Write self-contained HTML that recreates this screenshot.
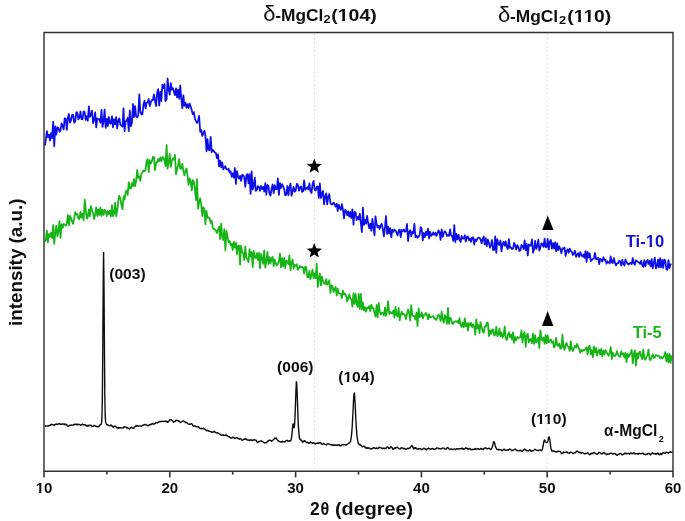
<!DOCTYPE html>
<html><head><meta charset="utf-8"><style>
html,body{margin:0;padding:0;background:#fff;}
body{width:685px;height:521px;overflow:hidden;position:relative;}
svg{position:absolute;left:0;top:0;}
text{font-family:"Liberation Sans", sans-serif;}
</style></head><body>
<svg width="685" height="521" viewBox="0 0 685 521">
<defs><filter id="bl" x="-5%" y="-5%" width="110%" height="110%"><feGaussianBlur stdDeviation="0.35"/></filter><filter id="soft" x="0" y="0" width="100%" height="100%"><feGaussianBlur stdDeviation="0.4"/></filter></defs><rect x="0" y="0" width="685" height="521" fill="#fff"/><g filter="url(#soft)">
<g stroke="#d4d4d4" stroke-width="0.9" stroke-dasharray="1.6 2.6" fill="none">
<line x1="314.47" y1="33.60" x2="314.47" y2="470.20"/>
<line x1="547.20" y1="33.60" x2="547.20" y2="470.20"/>
</g>
<path d="M44.8 425.5L45.2 425.6L45.6 425.8L46.0 426.0L46.4 426.1L46.8 425.9L47.2 426.0L47.6 426.1L48.0 426.1L48.4 425.8L48.8 425.7L49.2 425.9L49.6 425.5L50.0 425.0L50.4 425.2L50.8 425.1L51.2 424.5L51.6 424.3L52.0 424.5L52.4 424.7L52.8 424.9L53.2 424.9L53.6 425.0L54.0 425.4L54.4 424.8L54.8 424.7L55.2 424.6L55.6 424.4L56.0 423.8L56.4 424.2L56.8 424.2L57.2 424.3L57.6 424.1L58.0 424.3L58.4 423.9L58.8 423.6L59.2 423.7L59.6 423.6L60.0 424.0L60.4 424.4L60.8 424.3L61.2 424.3L61.6 424.3L62.0 424.1L62.4 423.9L62.8 424.0L63.2 423.9L63.6 424.1L64.0 424.3L64.4 424.0L64.8 424.7L65.2 424.5L65.6 424.5L66.0 424.1L66.4 424.8L66.8 424.8L67.2 425.7L67.6 425.9L68.0 426.4L68.4 426.2L68.8 426.0L69.2 425.4L69.6 425.5L70.0 425.3L70.4 425.1L70.8 425.3L71.2 425.4L71.6 425.0L72.0 425.1L72.4 425.1L72.8 425.1L73.2 424.8L73.6 425.1L74.0 424.8L74.4 424.4L74.8 424.1L75.2 424.6L75.6 424.3L76.0 424.3L76.4 424.4L76.8 424.8L77.2 424.3L77.6 424.1L78.0 424.5L78.4 424.5L78.8 424.3L79.2 424.5L79.6 424.7L80.0 424.6L80.4 425.2L80.8 425.2L81.2 424.9L81.6 424.6L82.0 424.5L82.4 424.1L82.8 424.4L83.2 424.6L83.6 424.9L84.0 424.8L84.4 424.8L84.8 424.8L85.2 424.8L85.6 425.0L86.0 425.6L86.4 425.9L86.8 425.5L87.2 426.0L87.6 426.1L88.0 425.4L88.4 425.5L88.8 425.9L89.2 425.3L89.6 425.1L90.0 425.1L90.4 425.0L90.8 425.3L91.2 425.4L91.6 425.8L92.0 426.6L92.4 426.3L92.8 426.2L93.2 426.2L93.6 426.0L94.0 425.3L94.4 425.7L94.8 425.8L95.2 425.8L95.6 426.1L96.0 426.6L96.4 426.5L96.8 426.5L97.2 426.6L97.6 426.6L98.0 426.7L98.4 426.6L98.8 426.3L99.2 426.2L99.6 425.6L100.0 424.8L100.4 424.7L100.8 424.5L101.2 424.2L101.6 422.9L102.0 416.1L102.4 394.8L102.8 347.2L103.2 283.9L103.6 252.5L104.0 284.6L104.4 346.3L104.8 393.7L105.2 415.4L105.6 422.0L106.0 423.3L106.4 424.3L106.8 424.6L107.2 424.9L107.6 424.5L108.0 424.9L108.4 425.3L108.8 425.6L109.2 425.6L109.6 425.6L110.0 425.7L110.4 425.4L110.8 425.1L111.2 425.0L111.6 425.9L112.0 426.1L112.4 426.2L112.8 426.6L113.2 427.4L113.6 426.4L114.0 426.1L114.4 426.4L114.8 426.4L115.2 426.1L115.6 426.7L116.0 426.9L116.4 427.5L116.8 427.9L117.2 427.9L117.6 427.8L118.0 428.5L118.4 427.9L118.8 427.3L119.2 427.5L119.6 427.9L120.0 427.6L120.4 427.9L120.8 427.8L121.2 427.9L121.6 427.9L122.0 428.1L122.4 428.0L122.8 427.9L123.2 427.5L123.6 427.8L124.0 427.2L124.4 426.7L124.8 426.9L125.2 427.1L125.6 427.1L126.0 427.0L126.4 427.6L126.8 428.0L127.2 427.8L127.6 427.5L128.0 428.2L128.4 428.4L128.8 428.4L129.2 428.7L129.6 429.0L130.0 428.5L130.4 428.0L130.8 427.5L131.2 427.4L131.6 427.0L132.0 427.7L132.4 427.6L132.8 428.1L133.2 428.3L133.6 428.2L134.0 427.8L134.4 427.2L134.8 426.9L135.2 426.7L135.6 426.1L136.0 425.5L136.4 426.2L136.8 426.0L137.2 425.5L137.6 425.9L138.0 426.0L138.4 425.9L138.8 426.0L139.2 426.1L139.6 426.0L140.0 426.0L140.4 426.1L140.8 426.0L141.2 426.2L141.6 426.3L142.0 425.9L142.4 425.3L142.8 425.4L143.2 425.2L143.6 424.9L144.0 424.8L144.4 424.9L144.8 424.6L145.2 424.4L145.6 424.5L146.0 424.9L146.4 424.9L146.8 425.2L147.2 425.4L147.6 425.8L148.0 425.9L148.4 425.6L148.8 425.3L149.2 425.2L149.6 424.7L150.0 424.6L150.4 424.8L150.8 424.6L151.2 423.9L151.6 424.2L152.0 423.9L152.4 423.7L152.8 423.5L153.2 424.3L153.6 424.1L154.0 423.9L154.4 423.6L154.8 423.8L155.2 423.2L155.6 422.9L156.0 422.5L156.4 422.8L156.8 422.7L157.2 422.7L157.6 422.7L158.0 422.3L158.4 422.0L158.8 421.8L159.2 421.6L159.6 421.5L160.0 421.7L160.4 421.8L160.8 421.7L161.2 421.5L161.6 421.2L162.0 421.4L162.4 421.4L162.8 421.4L163.2 421.2L163.6 421.6L164.0 421.3L164.4 421.3L164.8 421.4L165.2 421.6L165.6 421.1L166.0 421.5L166.4 421.3L166.8 421.3L167.2 421.6L167.6 422.3L168.0 422.1L168.4 421.5L168.8 421.3L169.2 420.6L169.6 419.9L170.0 419.8L170.4 419.7L170.8 420.1L171.2 419.8L171.6 419.7L172.0 420.3L172.4 420.9L172.8 420.9L173.2 421.7L173.6 422.4L174.0 422.1L174.4 421.8L174.8 421.4L175.2 421.3L175.6 420.6L176.0 420.3L176.4 420.1L176.8 420.4L177.2 420.4L177.6 420.8L178.0 420.6L178.4 420.7L178.8 421.2L179.2 421.3L179.6 421.4L180.0 422.0L180.4 422.5L180.8 422.4L181.2 422.2L181.6 421.9L182.0 421.7L182.4 421.1L182.8 421.0L183.2 421.1L183.6 420.9L184.0 421.2L184.4 421.7L184.8 421.8L185.2 422.0L185.6 422.5L186.0 422.4L186.4 422.5L186.8 422.8L187.2 423.1L187.6 423.4L188.0 423.8L188.4 424.1L188.8 424.1L189.2 424.2L189.6 424.4L190.0 424.3L190.4 424.3L190.8 424.0L191.2 423.6L191.6 423.7L192.0 424.0L192.4 424.5L192.8 425.4L193.2 426.2L193.6 426.3L194.0 426.0L194.4 426.0L194.8 425.8L195.2 425.9L195.6 426.1L196.0 426.7L196.4 426.8L196.8 426.9L197.2 426.8L197.6 426.7L198.0 426.7L198.4 427.0L198.8 427.1L199.2 427.6L199.6 428.2L200.0 428.6L200.4 428.5L200.8 428.5L201.2 428.4L201.6 428.7L202.0 428.5L202.4 428.5L202.8 428.7L203.2 428.8L203.6 428.3L204.0 429.0L204.4 429.0L204.8 429.0L205.2 429.5L205.6 430.1L206.0 430.0L206.4 430.3L206.8 430.7L207.2 430.4L207.6 430.5L208.0 430.7L208.4 430.9L208.8 431.2L209.2 431.3L209.6 431.2L210.0 431.4L210.4 431.6L210.8 431.6L211.2 431.7L211.6 432.2L212.0 432.2L212.4 432.1L212.8 432.0L213.2 432.1L213.6 431.8L214.0 431.7L214.4 431.3L214.8 432.0L215.2 432.3L215.6 432.6L216.0 432.4L216.4 432.9L216.8 433.0L217.2 432.7L217.6 432.8L218.0 433.3L218.4 433.3L218.8 433.3L219.2 433.7L219.6 434.0L220.0 434.1L220.4 434.4L220.8 434.8L221.2 435.2L221.6 435.4L222.0 435.1L222.4 435.0L222.8 434.8L223.2 435.0L223.6 434.8L224.0 435.4L224.4 435.4L224.8 435.4L225.2 435.0L225.6 435.2L226.0 435.0L226.4 435.2L226.8 435.3L227.2 436.2L227.6 436.0L228.0 436.1L228.4 436.6L228.8 436.6L229.2 436.7L229.6 437.2L230.0 437.5L230.4 437.4L230.8 438.0L231.2 437.8L231.6 437.9L232.0 438.0L232.4 437.7L232.8 437.1L233.2 437.4L233.6 437.5L234.0 437.7L234.4 438.3L234.8 438.5L235.2 438.2L235.6 437.9L236.0 438.0L236.4 437.7L236.8 437.9L237.2 438.0L237.6 438.2L238.0 438.3L238.4 438.7L238.8 438.9L239.2 439.2L239.6 439.0L240.0 438.5L240.4 438.7L240.8 438.9L241.2 439.1L241.6 439.7L242.0 440.4L242.4 440.1L242.8 440.1L243.2 439.8L243.6 439.5L244.0 439.1L244.4 439.4L244.8 439.3L245.2 438.5L245.6 438.8L246.0 439.2L246.4 439.2L246.8 439.3L247.2 440.2L247.6 440.0L248.0 440.1L248.4 440.2L248.8 439.9L249.2 439.9L249.6 440.6L250.0 440.2L250.4 439.9L250.8 439.8L251.2 440.3L251.6 439.9L252.0 440.3L252.4 440.5L252.8 440.7L253.2 439.8L253.6 439.9L254.0 440.0L254.4 439.8L254.8 439.8L255.2 440.1L255.6 440.1L256.0 440.2L256.4 441.0L256.8 441.6L257.2 442.1L257.6 442.5L258.0 442.2L258.4 441.8L258.8 441.8L259.2 441.6L259.6 441.3L260.0 441.2L260.4 440.9L260.8 440.9L261.2 441.0L261.6 441.0L262.0 441.5L262.4 441.6L262.8 441.6L263.2 441.8L263.6 442.4L264.0 442.5L264.4 443.0L264.8 442.7L265.2 442.7L265.6 442.7L266.0 442.4L266.4 442.5L266.8 442.7L267.2 442.1L267.6 441.0L268.0 441.0L268.4 441.0L268.8 440.5L269.2 440.3L269.6 440.1L270.0 440.4L270.4 440.3L270.8 440.7L271.2 440.8L271.6 441.4L272.0 440.9L272.4 440.5L272.8 440.2L273.2 439.8L273.6 439.5L274.0 439.3L274.4 438.5L274.8 438.2L275.2 438.1L275.6 438.2L276.0 437.8L276.4 438.9L276.8 439.1L277.2 439.5L277.6 440.2L278.0 440.7L278.4 440.7L278.8 441.0L279.2 441.5L279.6 441.6L280.0 441.7L280.4 442.0L280.8 442.0L281.2 441.8L281.6 441.5L282.0 441.9L282.4 441.3L282.8 441.4L283.2 441.7L283.6 441.6L284.0 441.9L284.4 442.0L284.8 442.0L285.2 441.5L285.6 441.4L286.0 440.6L286.4 440.6L286.8 440.5L287.2 440.3L287.6 440.6L288.0 441.2L288.4 440.9L288.8 441.0L289.2 441.1L289.6 440.7L290.0 440.7L290.4 441.1L290.8 440.5L291.2 439.5L291.6 437.2L292.0 433.7L292.4 428.9L292.8 424.8L293.2 423.8L293.6 426.4L294.0 427.9L294.4 426.5L294.8 421.3L295.2 412.1L295.6 400.4L296.0 388.8L296.4 381.8L296.8 384.5L297.2 394.1L297.6 405.9L298.0 417.2L298.4 426.6L298.8 431.7L299.2 435.4L299.6 438.6L300.0 439.5L300.4 439.2L300.8 439.8L301.2 440.8L301.6 440.4L302.0 440.8L302.4 441.8L302.8 442.2L303.2 441.7L303.6 441.3L304.0 441.2L304.4 440.7L304.8 440.6L305.2 441.2L305.6 441.9L306.0 441.9L306.4 442.4L306.8 442.7L307.2 442.6L307.6 442.3L308.0 442.5L308.4 443.0L308.8 443.2L309.2 442.9L309.6 443.1L310.0 442.7L310.4 442.1L310.8 442.4L311.2 442.6L311.6 442.6L312.0 443.0L312.4 443.2L312.8 442.8L313.2 442.8L313.6 442.8L314.0 443.2L314.4 443.6L314.8 443.5L315.2 443.5L315.6 444.0L316.0 443.6L316.4 443.1L316.8 443.2L317.2 443.4L317.6 443.0L318.0 443.2L318.4 443.5L318.8 443.3L319.2 442.8L319.6 442.4L320.0 442.9L320.4 442.4L320.8 442.8L321.2 443.4L321.6 444.2L322.0 444.0L322.4 444.3L322.8 444.2L323.2 443.9L323.6 443.4L324.0 443.8L324.4 443.8L324.8 444.2L325.2 444.5L325.6 444.7L326.0 444.6L326.4 445.1L326.8 444.3L327.2 444.0L327.6 443.9L328.0 443.8L328.4 443.7L328.8 444.0L329.2 444.1L329.6 444.2L330.0 444.5L330.4 444.7L330.8 444.8L331.2 444.7L331.6 445.0L332.0 444.8L332.4 444.6L332.8 445.0L333.2 445.6L333.6 445.2L334.0 444.9L334.4 445.2L334.8 444.9L335.2 444.9L335.6 445.2L336.0 445.2L336.4 445.0L336.8 445.3L337.2 445.2L337.6 445.0L338.0 445.2L338.4 445.0L338.8 444.7L339.2 444.9L339.6 445.7L340.0 445.8L340.4 445.9L340.8 445.8L341.2 445.6L341.6 445.0L342.0 444.9L342.4 445.0L342.8 444.6L343.2 444.8L343.6 444.7L344.0 444.4L344.4 444.5L344.8 444.6L345.2 444.9L345.6 445.0L346.0 445.2L346.4 444.8L346.8 444.7L347.2 444.4L347.6 443.9L348.0 443.9L348.4 443.4L348.8 443.3L349.2 442.9L349.6 442.7L350.0 441.9L350.4 441.8L350.8 440.1L351.2 437.5L351.6 434.1L352.0 429.7L352.4 423.2L352.8 415.5L353.2 407.2L353.6 399.3L354.0 393.7L354.4 392.9L354.8 397.8L355.2 405.4L355.6 413.9L356.0 421.8L356.4 428.7L356.8 433.9L357.2 437.7L357.6 440.1L358.0 442.3L358.4 443.4L358.8 443.8L359.2 444.6L359.6 444.7L360.0 444.2L360.4 445.0L360.8 445.4L361.2 445.4L361.6 446.0L362.0 446.8L362.4 446.6L362.8 446.6L363.2 446.3L363.6 446.3L364.0 446.3L364.4 446.4L364.8 446.7L365.2 447.8L365.6 447.5L366.0 447.8L366.4 448.2L366.8 448.4L367.2 447.6L367.6 448.2L368.0 448.3L368.4 448.1L368.8 447.8L369.2 448.1L369.6 448.1L370.0 448.3L370.4 448.9L370.8 448.9L371.2 449.1L371.6 448.8L372.0 448.8L372.4 448.3L372.8 448.2L373.2 447.8L373.6 447.7L374.0 447.6L374.4 447.9L374.8 448.3L375.2 448.4L375.6 448.5L376.0 448.4L376.4 448.0L376.8 447.9L377.2 448.4L377.6 448.6L378.0 448.4L378.4 448.0L378.8 447.9L379.2 447.3L379.6 447.2L380.0 447.4L380.4 447.6L380.8 447.6L381.2 447.9L381.6 448.4L382.0 448.5L382.4 448.3L382.8 448.4L383.2 448.6L383.6 448.1L384.0 447.9L384.4 448.5L384.8 448.5L385.2 448.5L385.6 448.3L386.0 448.4L386.4 447.8L386.8 447.3L387.2 447.1L387.6 447.0L388.0 447.0L388.4 448.0L388.8 448.5L389.2 448.4L389.6 448.1L390.0 448.0L390.4 447.0L390.8 446.4L391.2 446.8L391.6 447.2L392.0 447.5L392.4 448.6L392.8 449.2L393.2 449.0L393.6 449.2L394.0 449.1L394.4 448.1L394.8 448.0L395.2 448.2L395.6 448.1L396.0 447.8L396.4 447.7L396.8 447.5L397.2 447.2L397.6 447.4L398.0 447.9L398.4 448.5L398.8 448.7L399.2 448.9L399.6 448.9L400.0 448.9L400.4 448.2L400.8 448.6L401.2 448.0L401.6 447.7L402.0 447.7L402.4 448.1L402.8 448.2L403.2 448.6L403.6 448.7L404.0 448.5L404.4 448.5L404.8 448.5L405.2 448.8L405.6 449.3L406.0 449.1L406.4 449.3L406.8 449.1L407.2 448.5L407.6 448.2L408.0 448.5L408.4 448.6L408.8 448.3L409.2 448.4L409.6 448.0L410.0 448.0L410.4 447.6L410.8 446.9L411.2 446.1L411.6 445.7L412.0 445.5L412.4 446.0L412.8 446.7L413.2 448.0L413.6 449.0L414.0 448.5L414.4 447.8L414.8 448.5L415.2 447.9L415.6 447.6L416.0 447.7L416.4 448.7L416.8 448.9L417.2 449.2L417.6 449.2L418.0 449.4L418.4 449.3L418.8 448.5L419.2 448.6L419.6 448.6L420.0 448.6L420.4 448.5L420.8 449.1L421.2 449.1L421.6 449.7L422.0 449.5L422.4 449.3L422.8 449.1L423.2 448.7L423.6 448.4L424.0 448.2L424.4 448.5L424.8 448.7L425.2 449.1L425.6 449.0L426.0 449.5L426.4 449.8L426.8 449.1L427.2 449.0L427.6 449.0L428.0 448.6L428.4 448.1L428.8 448.5L429.2 448.5L429.6 448.6L430.0 449.0L430.4 449.4L430.8 449.2L431.2 448.9L431.6 449.1L432.0 448.6L432.4 448.4L432.8 448.6L433.2 449.1L433.6 449.0L434.0 449.5L434.4 449.4L434.8 449.4L435.2 449.0L435.6 448.9L436.0 448.6L436.4 448.5L436.8 447.7L437.2 448.1L437.6 448.1L438.0 448.1L438.4 448.2L438.8 448.7L439.2 448.6L439.6 448.5L440.0 448.8L440.4 449.0L440.8 448.9L441.2 448.9L441.6 448.7L442.0 448.5L442.4 448.0L442.8 448.1L443.2 448.1L443.6 448.1L444.0 448.1L444.4 448.7L444.8 448.8L445.2 449.1L445.6 449.2L446.0 449.1L446.4 448.9L446.8 448.4L447.2 447.6L447.6 447.8L448.0 447.8L448.4 448.1L448.8 448.6L449.2 448.9L449.6 449.1L450.0 449.2L450.4 449.3L450.8 449.0L451.2 449.2L451.6 449.1L452.0 449.2L452.4 449.1L452.8 449.6L453.2 449.5L453.6 449.2L454.0 449.3L454.4 449.0L454.8 449.0L455.2 449.3L455.6 449.5L456.0 449.1L456.4 449.0L456.8 449.0L457.2 448.6L457.6 448.8L458.0 449.0L458.4 449.1L458.8 448.8L459.2 448.8L459.6 448.8L460.0 448.7L460.4 448.6L460.8 448.6L461.2 448.8L461.6 448.2L462.0 448.1L462.4 448.4L462.8 449.0L463.2 448.7L463.6 449.3L464.0 449.0L464.4 449.0L464.8 448.7L465.2 448.5L465.6 447.8L466.0 448.2L466.4 448.1L466.8 448.1L467.2 448.4L467.6 449.1L468.0 449.4L468.4 449.0L468.8 448.8L469.2 448.6L469.6 448.7L470.0 448.4L470.4 449.0L470.8 449.1L471.2 449.8L471.6 449.6L472.0 449.7L472.4 449.5L472.8 449.5L473.2 449.5L473.6 449.4L474.0 449.2L474.4 449.2L474.8 449.3L475.2 448.5L475.6 448.8L476.0 449.2L476.4 449.2L476.8 449.0L477.2 449.1L477.6 448.8L478.0 448.4L478.4 448.8L478.8 449.2L479.2 449.4L479.6 449.4L480.0 449.2L480.4 448.7L480.8 448.4L481.2 448.5L481.6 448.6L482.0 449.3L482.4 449.4L482.8 449.2L483.2 449.5L483.6 449.0L484.0 448.5L484.4 448.3L484.8 448.2L485.2 447.6L485.6 448.0L486.0 448.1L486.4 448.3L486.8 448.6L487.2 448.8L487.6 448.9L488.0 448.8L488.4 448.5L488.8 448.2L489.2 448.4L489.6 448.4L490.0 448.9L490.4 449.3L490.8 449.5L491.2 448.9L491.6 448.6L492.0 447.8L492.4 446.8L492.8 445.0L493.2 443.5L493.6 441.8L494.0 441.7L494.4 442.2L494.8 443.8L495.2 445.4L495.6 447.0L496.0 447.6L496.4 448.6L496.8 449.4L497.2 449.5L497.6 449.5L498.0 449.7L498.4 449.7L498.8 449.4L499.2 449.8L499.6 449.6L500.0 449.5L500.4 449.9L500.8 449.9L501.2 449.9L501.6 450.2L502.0 450.7L502.4 450.3L502.8 450.2L503.2 449.7L503.6 449.5L504.0 449.2L504.4 449.3L504.8 449.8L505.2 450.4L505.6 450.3L506.0 450.1L506.4 450.3L506.8 450.3L507.2 449.9L507.6 450.0L508.0 450.2L508.4 450.0L508.8 449.6L509.2 449.4L509.6 449.2L510.0 448.9L510.4 449.3L510.8 449.7L511.2 450.1L511.6 450.3L512.0 450.7L512.4 450.4L512.8 450.2L513.2 450.1L513.6 450.0L514.0 449.7L514.4 449.4L514.8 449.2L515.2 449.3L515.6 449.2L516.0 450.0L516.4 450.2L516.8 450.3L517.2 450.3L517.6 450.7L518.0 450.7L518.4 450.9L518.8 450.9L519.2 450.7L519.6 450.7L520.0 450.4L520.4 450.3L520.8 450.5L521.2 450.9L521.6 451.1L522.0 451.3L522.4 451.1L522.8 450.8L523.2 450.1L523.6 449.9L524.0 449.8L524.4 449.0L524.8 449.3L525.2 450.0L525.6 450.1L526.0 449.9L526.4 450.8L526.8 450.9L527.2 450.6L527.6 450.6L528.0 451.1L528.4 450.8L528.8 450.6L529.2 450.3L529.6 449.7L530.0 449.8L530.4 450.4L530.8 450.7L531.2 451.2L531.6 451.4L532.0 451.1L532.4 450.8L532.8 450.9L533.2 450.6L533.6 450.4L534.0 450.0L534.4 449.7L534.8 449.5L535.2 449.5L535.6 449.7L536.0 450.0L536.4 450.1L536.8 450.4L537.2 450.4L537.6 450.4L538.0 450.4L538.4 450.6L538.8 450.4L539.2 450.1L539.6 450.0L540.0 450.1L540.4 450.0L540.8 450.3L541.2 450.3L541.6 450.7L542.0 450.2L542.4 449.2L542.8 447.3L543.2 445.5L543.6 443.0L544.0 441.0L544.4 439.9L544.8 440.1L545.2 441.2L545.6 442.0L546.0 442.4L546.4 442.5L546.8 442.5L547.2 442.2L547.6 441.8L548.0 440.5L548.4 438.5L548.8 437.0L549.2 436.8L549.6 438.5L550.0 441.0L550.4 444.5L550.8 447.2L551.2 449.4L551.6 450.3L552.0 451.2L552.4 451.0L552.8 451.1L553.2 450.8L553.6 451.2L554.0 451.2L554.4 451.6L554.8 451.5L555.2 451.7L555.6 451.6L556.0 451.6L556.4 451.6L556.8 451.9L557.2 451.5L557.6 451.3L558.0 451.5L558.4 451.6L558.8 451.1L559.2 451.1L559.6 451.3L560.0 451.5L560.4 451.5L560.8 452.3L561.2 453.0L561.6 453.7L562.0 453.3L562.4 453.2L562.8 453.3L563.2 452.7L563.6 451.8L564.0 452.2L564.4 452.5L564.8 452.5L565.2 452.4L565.6 452.4L566.0 452.4L566.4 452.0L566.8 451.8L567.2 452.2L567.6 452.9L568.0 453.0L568.4 453.1L568.8 453.1L569.2 453.3L569.6 452.6L570.0 452.7L570.4 452.5L570.8 452.2L571.2 452.2L571.6 452.6L572.0 452.8L572.4 453.1L572.8 453.6L573.2 453.3L573.6 453.3L574.0 452.9L574.4 453.1L574.8 452.6L575.2 452.8L575.6 452.2L576.0 452.1L576.4 451.2L576.8 451.1L577.2 451.1L577.6 451.6L578.0 451.7L578.4 452.2L578.8 452.6L579.2 452.0L579.6 452.3L580.0 452.9L580.4 452.5L580.8 452.4L581.2 453.2L581.6 452.7L582.0 452.4L582.4 452.7L582.8 452.9L583.2 453.0L583.6 453.3L584.0 453.4L584.4 453.8L584.8 453.8L585.2 453.5L585.6 453.8L586.0 453.5L586.4 453.3L586.8 453.1L587.2 453.0L587.6 452.8L588.0 453.1L588.4 453.7L588.8 454.0L589.2 454.2L589.6 454.6L590.0 454.8L590.4 453.8L590.8 453.7L591.2 453.8L591.6 453.3L592.0 453.1L592.4 453.5L592.8 453.6L593.2 453.0L593.6 452.7L594.0 452.5L594.4 452.7L594.8 453.0L595.2 453.3L595.6 453.6L596.0 454.0L596.4 454.0L596.8 454.1L597.2 454.2L597.6 453.9L598.0 453.5L598.4 453.3L598.8 452.5L599.2 452.4L599.6 452.7L600.0 452.8L600.4 452.9L600.8 453.4L601.2 453.7L601.6 453.9L602.0 454.0L602.4 453.7L602.8 453.2L603.2 452.8L603.6 452.9L604.0 452.5L604.4 452.8L604.8 453.3L605.2 454.0L605.6 454.0L606.0 454.2L606.4 454.6L606.8 454.6L607.2 454.0L607.6 454.2L608.0 454.1L608.4 453.9L608.8 453.9L609.2 454.1L609.6 453.6L610.0 453.5L610.4 453.4L610.8 453.3L611.2 453.1L611.6 453.2L612.0 453.7L612.4 453.9L612.8 454.0L613.2 453.8L613.6 454.1L614.0 453.7L614.4 453.4L614.8 453.6L615.2 453.7L615.6 453.7L616.0 454.6L616.4 455.0L616.8 454.9L617.2 455.3L617.6 454.9L618.0 454.5L618.4 454.2L618.8 454.1L619.2 453.9L619.6 454.0L620.0 453.4L620.4 453.4L620.8 453.5L621.2 453.9L621.6 454.2L622.0 454.7L622.4 454.8L622.8 454.8L623.2 454.3L623.6 454.1L624.0 453.7L624.4 453.5L624.8 453.8L625.2 453.3L625.6 453.2L626.0 453.7L626.4 453.7L626.8 453.4L627.2 453.4L627.6 453.5L628.0 453.5L628.4 453.6L628.8 453.5L629.2 453.8L629.6 454.0L630.0 453.6L630.4 453.3L630.8 452.9L631.2 453.5L631.6 453.2L632.0 453.5L632.4 453.2L632.8 453.8L633.2 453.5L633.6 453.2L634.0 452.8L634.4 453.8L634.8 453.3L635.2 453.6L635.6 453.9L636.0 453.7L636.4 453.6L636.8 453.9L637.2 453.6L637.6 453.6L638.0 454.2L638.4 454.1L638.8 453.8L639.2 453.2L639.6 453.5L640.0 453.4L640.4 453.5L640.8 453.6L641.2 453.9L641.6 453.7L642.0 453.2L642.4 453.2L642.8 453.2L643.2 453.2L643.6 453.6L644.0 454.3L644.4 454.2L644.8 454.4L645.2 454.7L645.6 454.4L646.0 454.6L646.4 454.4L646.8 454.4L647.2 454.0L647.6 454.2L648.0 453.4L648.4 453.5L648.8 453.5L649.2 453.8L649.6 453.5L650.0 454.3L650.4 454.8L650.8 454.6L651.2 454.0L651.6 453.7L652.0 453.2L652.4 452.7L652.8 452.8L653.2 453.5L653.6 453.7L654.0 453.9L654.4 453.9L654.8 453.7L655.2 453.4L655.6 454.2L656.0 454.2L656.4 453.9L656.8 453.6L657.2 453.9L657.6 453.2L658.0 453.0L658.4 453.9L658.8 454.8L659.2 454.1L659.6 454.1L660.0 454.5L660.4 454.0L660.8 453.3L661.2 454.1L661.6 454.6L662.0 454.0L662.4 453.3L662.8 453.2L663.2 452.8L663.6 452.6L664.0 452.8L664.4 453.1L664.8 453.3L665.2 453.2L665.6 452.7L666.0 452.2L666.4 452.3L666.8 452.6L667.2 452.4L667.6 452.8L668.0 453.0L668.4 453.2L668.8 452.5L669.2 452.4L669.6 452.2L670.0 452.3L670.4 451.8L670.8 452.4L671.2 452.3L671.6 452.3L672.0 452.3L672.4 452.5" fill="none" stroke="#111" stroke-width="1.4" stroke-linejoin="round"/>
<path d="M44.8 241.6L45.8 240.3L46.9 230.7L47.9 242.5L49.0 234.0L50.0 237.0L51.1 232.7L52.1 238.1L53.2 225.1L54.2 243.9L55.3 232.9L56.3 225.5L57.4 236.5L58.4 231.4L59.5 221.2L60.5 237.9L61.6 224.2L62.6 227.9L63.7 223.9L64.7 224.5L65.8 225.6L66.8 223.6L67.9 215.0L68.9 225.4L70.0 215.8L71.0 218.3L72.1 221.6L73.1 223.8L74.2 218.3L75.2 212.1L76.3 214.7L77.3 213.9L78.4 218.5L79.4 219.0L80.5 211.9L81.5 217.7L82.6 213.7L83.6 220.4L84.7 199.7L85.7 209.2L86.8 218.7L87.8 217.0L88.9 209.3L89.9 216.3L91.0 206.1L92.0 210.3L93.1 213.2L94.1 219.2L95.2 213.9L96.2 207.5L97.3 216.0L98.3 209.3L99.4 215.0L100.4 207.5L101.5 216.0L102.5 209.6L103.6 214.9L104.6 210.0L105.7 210.9L106.7 216.0L107.8 211.0L108.8 214.1L109.9 210.9L110.9 216.3L112.0 205.2L113.0 216.1L114.1 213.1L115.1 202.6L116.2 216.1L117.2 210.5L118.3 200.9L119.3 195.7L120.4 198.6L121.4 205.1L122.5 209.2L123.5 196.3L124.6 199.5L125.6 192.1L126.7 190.4L127.7 195.0L128.8 182.1L129.8 188.6L130.9 188.4L131.9 183.1L133.0 186.1L134.0 179.0L135.1 186.1L136.1 180.8L137.2 170.1L138.2 177.8L139.3 176.4L140.3 180.8L141.4 173.3L142.4 172.6L143.5 170.4L144.5 171.3L145.6 170.2L146.6 160.8L147.7 159.1L148.7 172.2L149.8 160.2L150.8 163.5L151.9 161.2L152.9 156.9L154.0 157.2L155.0 170.2L156.1 163.4L157.1 162.1L158.2 159.0L159.2 161.3L160.3 157.5L161.3 161.4L162.4 157.1L163.4 157.3L164.5 160.9L165.5 166.2L166.6 145.0L167.6 168.7L168.7 162.5L169.7 153.8L170.8 166.9L171.8 161.0L172.9 158.5L173.9 159.7L175.0 155.0L176.0 174.3L177.1 169.4L178.1 164.8L179.2 159.0L180.2 168.6L181.3 168.6L182.3 163.8L183.4 171.4L184.4 175.3L185.5 170.2L186.5 168.5L187.6 176.9L188.6 184.8L189.7 178.3L190.7 181.3L191.8 190.4L192.8 180.2L193.9 181.8L194.9 189.2L196.0 200.2L197.0 179.2L198.1 208.7L199.1 202.5L200.2 198.3L201.2 204.7L202.3 216.1L203.3 207.2L204.4 209.0L205.4 224.4L206.5 210.8L207.5 217.9L208.6 217.5L209.6 218.3L210.7 222.8L211.7 220.7L212.8 227.8L213.8 229.4L214.9 229.2L215.9 230.7L217.0 233.0L218.0 229.8L219.1 226.6L220.1 239.1L221.2 223.6L222.2 236.7L223.3 240.1L224.3 229.1L225.4 250.4L226.4 230.9L227.5 236.5L228.5 242.1L229.6 240.9L230.6 245.2L231.7 243.4L232.7 250.0L233.8 242.0L234.8 247.6L235.9 242.8L236.9 254.2L238.0 245.8L239.0 245.5L240.1 264.7L241.1 245.6L242.2 252.1L243.2 253.5L244.3 260.0L245.3 246.5L246.4 257.4L247.4 258.9L248.5 262.2L249.5 249.2L250.6 256.7L251.6 252.0L252.7 267.2L253.7 250.8L254.8 257.0L255.8 258.1L256.9 253.2L257.9 260.2L259.0 252.8L260.0 268.1L261.1 254.0L262.1 258.2L263.2 263.9L264.2 250.3L265.3 267.6L266.3 261.7L267.4 251.8L268.4 264.1L269.5 257.2L270.5 263.7L271.6 258.2L272.6 256.9L273.7 266.3L274.7 259.4L275.8 263.1L276.8 265.3L277.9 264.0L278.9 260.8L280.0 253.5L281.0 267.5L282.1 258.2L283.1 266.5L284.2 257.9L285.2 268.0L286.3 260.6L287.3 261.2L288.4 264.1L289.4 255.3L290.5 270.3L291.5 262.9L292.6 259.3L293.6 268.6L294.7 264.8L295.7 265.7L296.8 264.3L297.8 269.8L298.9 268.3L299.9 266.0L301.0 267.6L302.0 266.9L303.1 267.8L304.1 273.5L305.2 266.6L306.2 267.0L307.3 276.8L308.3 277.4L309.4 270.9L310.4 279.3L311.5 274.9L312.5 269.7L313.6 278.4L314.6 273.4L315.7 278.1L316.7 263.5L317.8 286.9L318.8 278.9L319.9 273.5L320.9 285.7L322.0 276.6L323.0 281.1L324.1 283.3L325.1 284.0L326.2 279.1L327.2 284.7L328.3 283.3L329.3 280.2L330.4 293.0L331.4 285.3L332.5 286.1L333.5 292.2L334.6 289.2L335.6 286.8L336.7 295.6L337.7 288.7L338.8 293.3L339.8 293.6L340.9 293.7L341.9 298.2L343.0 290.7L344.0 294.1L345.1 293.7L346.1 296.0L347.2 301.3L348.2 298.1L349.3 294.4L350.3 298.8L351.4 299.2L352.4 306.6L353.5 293.2L354.5 303.8L355.6 293.9L356.6 303.8L357.7 307.0L358.7 294.0L359.8 309.0L360.8 293.9L361.9 309.3L362.9 302.3L364.0 310.4L365.0 307.3L366.1 311.7L367.1 307.5L368.2 308.3L369.2 306.1L370.3 311.2L371.3 304.7L372.4 308.1L373.4 308.2L374.5 312.8L375.5 316.6L376.6 305.0L377.6 317.4L378.7 303.1L379.7 311.2L380.8 314.6L381.8 312.6L382.9 313.0L383.9 315.5L385.0 307.5L386.0 315.8L387.1 310.2L388.1 301.2L389.2 314.0L390.2 311.9L391.3 313.3L392.3 313.7L393.4 310.3L394.4 317.7L395.5 306.8L396.5 315.0L397.6 316.5L398.6 307.8L399.7 320.4L400.7 314.7L401.8 311.6L402.8 314.6L403.9 314.1L404.9 314.9L406.0 319.0L407.0 314.1L408.1 309.4L409.1 312.8L410.2 320.5L411.2 305.2L412.3 315.2L413.3 316.2L414.4 316.2L415.4 319.5L416.5 312.7L417.5 326.2L418.6 308.3L419.6 317.0L420.7 316.3L421.7 312.4L422.8 318.4L423.8 315.2L424.9 314.9L425.9 312.9L427.0 315.4L428.0 319.2L429.1 314.2L430.1 317.5L431.2 316.8L432.2 316.5L433.3 316.1L434.3 318.6L435.4 318.5L436.4 319.9L437.5 316.2L438.5 314.6L439.6 316.5L440.6 321.1L441.7 311.7L442.7 319.3L443.8 322.6L444.8 315.2L445.9 317.0L446.9 323.9L448.0 307.8L449.0 323.8L450.1 317.8L451.1 318.9L452.2 323.9L453.2 323.6L454.3 321.7L455.3 321.3L456.4 321.8L457.4 321.0L458.5 323.3L459.5 318.2L460.6 325.1L461.6 326.8L462.7 322.7L463.7 327.3L464.8 318.3L465.8 326.2L466.9 323.2L467.9 330.7L469.0 323.0L470.0 325.6L471.1 322.9L472.1 327.1L473.2 324.3L474.2 326.8L475.3 334.7L476.3 319.3L477.4 328.5L478.4 325.0L479.5 333.2L480.5 322.2L481.6 327.1L482.6 330.9L483.7 332.9L484.7 326.4L485.8 326.8L486.8 322.4L487.9 323.1L488.9 336.2L490.0 330.3L491.0 333.9L492.1 329.9L493.1 329.3L494.2 335.7L495.2 334.5L496.3 326.8L497.3 336.2L498.4 334.5L499.4 328.4L500.5 336.3L501.5 332.5L502.6 337.6L503.6 335.6L504.7 326.4L505.7 338.3L506.8 340.1L507.8 335.1L508.9 332.4L509.9 337.2L511.0 334.5L512.0 339.7L513.1 332.4L514.1 342.8L515.2 337.2L516.2 340.3L517.3 337.0L518.3 337.9L519.4 337.7L520.4 337.0L521.5 330.5L522.5 342.4L523.6 334.4L524.6 332.2L525.7 346.9L526.7 335.5L527.8 333.8L528.8 342.5L529.9 339.7L530.9 338.9L532.0 343.2L533.0 333.6L534.1 344.0L535.1 335.2L536.2 342.7L537.2 340.8L538.3 337.4L539.3 348.0L540.4 330.4L541.4 338.6L542.5 340.7L543.5 337.5L544.6 343.8L545.6 335.1L546.7 343.3L547.7 335.3L548.8 342.4L549.8 340.8L550.9 339.4L551.9 342.8L553.0 341.3L554.0 347.4L555.1 345.7L556.1 337.9L557.2 345.2L558.2 345.9L559.3 343.5L560.3 348.7L561.4 348.5L562.4 334.7L563.5 346.7L564.5 349.8L565.6 344.7L566.6 342.9L567.7 346.5L568.7 347.0L569.8 350.9L570.8 341.4L571.9 349.2L572.9 351.0L574.0 348.0L575.0 345.7L576.1 347.5L577.1 343.9L578.2 346.8L579.2 349.2L580.3 352.8L581.3 350.0L582.4 351.5L583.4 349.7L584.5 350.1L585.5 348.8L586.6 347.3L587.6 354.4L588.7 346.9L589.7 345.7L590.8 354.4L591.8 350.0L592.9 357.1L593.9 346.4L595.0 352.6L596.0 347.9L597.1 355.5L598.1 351.7L599.2 349.7L600.2 354.5L601.3 348.9L602.3 356.3L603.4 350.7L604.4 354.6L605.5 350.1L606.5 352.6L607.6 354.1L608.6 355.8L609.7 352.5L610.7 347.2L611.8 359.2L612.8 352.5L613.9 355.8L614.9 356.2L616.0 354.6L617.0 351.2L618.1 354.8L619.1 356.6L620.2 356.7L621.2 351.3L622.3 354.5L623.3 353.4L624.4 357.6L625.4 352.6L626.5 362.2L627.5 353.7L628.6 357.0L629.6 355.0L630.7 352.9L631.7 349.8L632.8 363.1L633.8 354.1L634.9 350.3L635.9 365.7L637.0 353.2L638.0 358.6L639.1 352.7L640.1 351.7L641.2 356.6L642.2 359.1L643.3 349.5L644.3 357.9L645.4 359.8L646.4 357.1L647.5 354.8L648.5 349.7L649.6 359.5L650.6 360.0L651.7 356.7L652.7 354.2L653.8 358.1L654.8 357.5L655.9 354.9L656.9 355.6L658.0 356.2L659.0 355.9L660.1 358.1L661.1 357.0L662.2 358.5L663.2 357.6L664.3 355.8L665.3 352.0L666.4 361.5L667.4 354.0L668.5 362.5L669.5 353.8L670.6 362.9L671.6 355.3" fill="none" stroke="#14b414" stroke-width="1.75" filter="url(#bl)" stroke-linejoin="round"/>
<path d="M44.8 145.5L45.8 140.2L46.9 131.1L47.9 137.1L49.0 134.7L50.0 140.5L51.1 133.1L52.1 138.3L53.2 121.7L54.2 146.3L55.3 126.4L56.3 134.7L57.4 127.3L58.4 127.7L59.5 131.9L60.5 130.4L61.6 123.3L62.6 126.0L63.7 129.4L64.7 118.1L65.8 118.9L66.8 129.9L67.9 117.8L68.9 114.0L70.0 122.7L71.0 120.3L72.1 114.8L73.1 114.7L74.2 122.6L75.2 121.5L76.3 112.3L77.3 112.4L78.4 119.3L79.4 117.6L80.5 111.5L81.5 119.1L82.6 119.1L83.6 111.3L84.7 112.2L85.7 120.0L86.8 116.1L87.8 120.8L88.9 106.3L89.9 117.0L91.0 114.5L92.0 110.7L93.1 123.2L94.1 119.8L95.2 112.4L96.2 127.4L97.3 118.3L98.3 119.3L99.4 119.0L100.4 122.8L101.5 109.8L102.5 126.9L103.6 121.3L104.6 109.6L105.7 127.9L106.7 118.7L107.8 126.1L108.8 117.0L109.9 123.2L110.9 123.7L112.0 116.3L113.0 127.4L114.1 119.2L115.1 124.3L116.2 117.2L117.2 128.4L118.3 120.9L119.3 118.3L120.4 124.8L121.4 125.7L122.5 126.7L123.5 108.3L124.6 131.2L125.6 121.8L126.7 120.4L127.7 117.7L128.8 131.1L129.8 110.5L130.9 126.3L131.9 123.0L133.0 104.0L134.0 117.2L135.1 106.2L136.1 116.4L137.2 117.3L138.2 115.3L139.3 94.3L140.3 111.7L141.4 114.4L142.4 114.3L143.5 104.5L144.5 100.9L145.6 108.5L146.6 102.9L147.7 102.0L148.7 99.0L149.8 106.0L150.8 102.1L151.9 100.2L152.9 100.2L154.0 94.5L155.0 100.9L156.1 106.0L157.1 92.6L158.2 89.2L159.2 105.6L160.3 91.9L161.3 101.0L162.4 84.7L163.4 87.8L164.5 84.2L165.5 101.1L166.6 99.1L167.6 78.5L168.7 89.6L169.7 94.7L170.8 83.2L171.8 89.7L172.9 88.1L173.9 91.7L175.0 95.2L176.0 88.3L177.1 97.5L178.1 89.7L179.2 98.9L180.2 85.7L181.3 97.9L182.3 108.3L183.4 95.3L184.4 105.8L185.5 102.7L186.5 107.8L187.6 104.2L188.6 108.0L189.7 103.6L190.7 106.5L191.8 110.6L192.8 114.2L193.9 112.1L194.9 118.8L196.0 121.2L197.0 123.0L198.1 120.5L199.1 115.8L200.2 131.8L201.2 130.2L202.3 136.0L203.3 133.3L204.4 130.7L205.4 135.8L206.5 151.3L207.5 139.1L208.6 150.0L209.6 150.2L210.7 136.9L211.7 152.2L212.8 149.9L213.8 151.1L214.9 152.5L215.9 153.0L217.0 158.2L218.0 154.4L219.1 166.4L220.1 160.7L221.2 167.3L222.2 162.3L223.3 169.4L224.3 167.7L225.4 166.2L226.4 169.2L227.5 169.6L228.5 168.7L229.6 172.5L230.6 171.2L231.7 176.8L232.7 173.3L233.8 177.6L234.8 168.0L235.9 184.0L236.9 171.1L238.0 176.0L239.0 178.6L240.1 175.8L241.1 180.9L242.2 174.8L243.2 175.1L244.3 177.6L245.3 186.8L246.4 175.6L247.4 174.1L248.5 183.4L249.5 174.2L250.6 193.9L251.6 171.4L252.7 189.7L253.7 185.6L254.8 177.6L255.8 190.9L256.9 189.8L257.9 186.1L259.0 187.0L260.0 190.9L261.1 186.0L262.1 189.1L263.2 186.9L264.2 191.6L265.3 183.2L266.3 194.8L267.4 185.0L268.4 185.9L269.5 193.7L270.5 195.6L271.6 189.0L272.6 184.5L273.7 193.2L274.7 185.1L275.8 189.3L276.8 189.2L277.9 178.4L278.9 194.8L280.0 183.2L281.0 188.0L282.1 184.2L283.1 186.3L284.2 189.1L285.2 195.3L286.3 194.7L287.3 186.0L288.4 195.1L289.4 187.1L290.5 183.6L291.5 195.8L292.6 191.6L293.6 186.9L294.7 191.7L295.7 190.6L296.8 183.8L297.8 184.4L298.9 190.7L299.9 187.3L301.0 186.4L302.0 191.8L303.1 191.2L304.1 180.4L305.2 189.9L306.2 188.5L307.3 187.3L308.3 189.5L309.4 183.4L310.4 191.2L311.5 192.9L312.5 184.3L313.6 180.9L314.6 189.6L315.7 190.5L316.7 186.7L317.8 186.3L318.8 198.0L319.9 183.4L320.9 198.0L322.0 193.2L323.0 191.0L324.1 204.5L325.1 196.6L326.2 193.3L327.2 204.3L328.3 196.7L329.3 194.0L330.4 202.7L331.4 204.4L332.5 204.4L333.5 202.6L334.6 204.0L335.6 206.6L336.7 203.7L337.7 211.2L338.8 204.7L339.8 208.3L340.9 209.8L341.9 204.1L343.0 210.0L344.0 218.5L345.1 209.9L346.1 210.9L347.2 215.2L348.2 211.4L349.3 216.7L350.3 212.0L351.4 218.0L352.4 209.4L353.5 224.7L354.5 211.7L355.6 212.2L356.6 220.0L357.7 216.8L358.7 219.4L359.8 213.9L360.8 223.0L361.9 232.1L362.9 207.7L364.0 225.0L365.0 219.7L366.1 223.6L367.1 215.9L368.2 223.3L369.2 228.3L370.3 223.5L371.3 230.8L372.4 218.9L373.4 227.2L374.5 235.3L375.5 216.4L376.6 223.9L377.6 227.5L378.7 225.7L379.7 229.1L380.8 225.0L381.8 223.8L382.9 229.5L383.9 236.4L385.0 226.9L386.0 216.0L387.1 234.2L388.1 226.5L389.2 233.7L390.2 228.1L391.3 237.4L392.3 229.7L393.4 231.8L394.4 229.7L395.5 230.6L396.5 232.6L397.6 235.3L398.6 230.9L399.7 229.6L400.7 237.1L401.8 230.0L402.8 231.3L403.9 229.5L404.9 231.7L406.0 231.0L407.0 223.8L408.1 241.1L409.1 231.9L410.2 230.2L411.2 236.2L412.3 231.8L413.3 233.0L414.4 223.8L415.4 237.3L416.5 235.6L417.5 237.8L418.6 236.7L419.6 235.0L420.7 227.2L421.7 229.0L422.8 240.3L423.8 233.0L424.9 237.2L425.9 231.7L427.0 235.0L428.0 228.6L429.1 238.5L430.1 231.6L431.2 235.9L432.2 234.6L433.3 232.4L434.3 234.8L435.4 232.8L436.4 235.9L437.5 233.4L438.5 230.4L439.6 232.2L440.6 240.0L441.7 229.5L442.7 236.9L443.8 233.0L444.8 231.2L445.9 232.6L446.9 236.0L448.0 234.9L449.0 235.9L450.1 229.3L451.1 235.5L452.2 236.1L453.2 240.9L454.3 225.2L455.3 242.2L456.4 233.9L457.4 239.3L458.5 234.8L459.5 239.6L460.6 242.0L461.6 236.0L462.7 238.7L463.7 238.5L464.8 235.2L465.8 241.6L466.9 236.9L467.9 236.5L469.0 240.3L470.0 238.4L471.1 241.8L472.1 237.4L473.2 237.4L474.2 244.6L475.3 239.4L476.3 241.1L477.4 238.5L478.4 237.5L479.5 237.9L480.5 239.2L481.6 243.4L482.6 239.2L483.7 236.4L484.7 244.5L485.8 238.2L486.8 246.2L487.9 239.7L488.9 242.7L490.0 247.7L491.0 244.5L492.1 240.0L493.1 250.2L494.2 250.0L495.2 236.3L496.3 252.9L497.3 239.2L498.4 244.3L499.4 244.9L500.5 240.5L501.5 251.3L502.6 244.0L503.6 241.9L504.7 245.7L505.7 241.3L506.8 247.2L507.8 249.1L508.9 239.0L509.9 247.8L511.0 247.3L512.0 249.1L513.1 248.5L514.1 242.8L515.2 245.3L516.2 249.5L517.3 245.1L518.3 246.8L519.4 251.0L520.4 250.3L521.5 245.0L522.5 246.1L523.6 249.0L524.6 240.4L525.7 250.1L526.7 243.7L527.8 255.5L528.8 244.5L529.9 245.7L530.9 245.6L532.0 239.3L533.0 252.6L534.1 249.5L535.1 240.9L536.2 249.0L537.2 246.5L538.3 239.7L539.3 250.6L540.4 247.4L541.4 243.3L542.5 244.2L543.5 246.9L544.6 238.7L545.6 247.1L546.7 246.9L547.7 238.9L548.8 249.4L549.8 241.9L550.9 239.9L551.9 248.6L553.0 243.1L554.0 248.5L555.1 242.4L556.1 251.5L557.2 243.4L558.2 250.1L559.3 246.3L560.3 249.2L561.4 253.3L562.4 248.3L563.5 248.6L564.5 247.5L565.6 256.0L566.6 251.1L567.7 249.2L568.7 252.8L569.8 248.7L570.8 251.1L571.9 251.9L572.9 255.1L574.0 253.2L575.0 250.7L576.1 256.8L577.1 254.7L578.2 253.2L579.2 256.9L580.3 252.1L581.3 255.0L582.4 256.6L583.4 254.5L584.5 257.8L585.5 251.2L586.6 262.0L587.6 252.0L588.7 257.5L589.7 253.5L590.8 261.1L591.8 260.0L592.9 258.7L593.9 258.7L595.0 253.0L596.0 259.2L597.1 259.1L598.1 257.7L599.2 264.2L600.2 258.7L601.3 259.8L602.3 261.7L603.4 257.2L604.4 259.8L605.5 259.9L606.5 263.7L607.6 261.3L608.6 262.3L609.7 263.4L610.7 256.3L611.8 262.3L612.8 263.0L613.9 258.1L614.9 262.6L616.0 265.4L617.0 263.3L618.1 263.2L619.1 260.7L620.2 261.7L621.2 265.5L622.3 259.8L623.3 264.0L624.4 265.5L625.4 259.7L626.5 261.8L627.5 263.7L628.6 264.4L629.6 263.3L630.7 262.7L631.7 264.2L632.8 258.1L633.8 263.3L634.9 264.7L635.9 260.4L637.0 261.0L638.0 262.0L639.1 262.5L640.1 263.9L641.2 260.7L642.2 265.1L643.3 266.9L644.3 260.1L645.4 266.4L646.4 261.8L647.5 259.8L648.5 264.0L649.6 260.9L650.6 266.4L651.7 259.2L652.7 268.3L653.8 262.8L654.8 257.6L655.9 268.5L656.9 266.4L658.0 259.6L659.0 267.5L660.1 258.2L661.1 267.4L662.2 259.8L663.2 268.0L664.3 259.4L665.3 260.8L666.4 269.5L667.4 269.8L668.5 260.2L669.5 268.0L670.6 264.3L671.6 264.4" fill="none" stroke="#0c0ce6" stroke-width="1.75" filter="url(#bl)" stroke-linejoin="round"/>
<rect x="44.0" y="32.6" width="629.0" height="438.59999999999997" fill="none" stroke="#333" stroke-width="1.45" stroke-linejoin="round"/>
<g stroke="#333" stroke-width="1.6"><line x1="44.00" y1="471.20" x2="44.00" y2="477.40"/><line x1="106.90" y1="471.20" x2="106.90" y2="474.60"/><line x1="169.80" y1="471.20" x2="169.80" y2="477.40"/><line x1="232.70" y1="471.20" x2="232.70" y2="474.60"/><line x1="295.60" y1="471.20" x2="295.60" y2="477.40"/><line x1="358.50" y1="471.20" x2="358.50" y2="474.60"/><line x1="421.40" y1="471.20" x2="421.40" y2="477.40"/><line x1="484.30" y1="471.20" x2="484.30" y2="474.60"/><line x1="547.20" y1="471.20" x2="547.20" y2="477.40"/><line x1="610.10" y1="471.20" x2="610.10" y2="474.60"/><line x1="673.00" y1="471.20" x2="673.00" y2="477.40"/></g>
<polygon points="314.30,158.40 316.30,163.65 321.91,163.93 317.53,167.45 319.00,172.87 314.30,169.80 309.60,172.87 311.07,167.45 306.69,163.93 312.30,163.65" fill="#000"/>
<polygon points="314.30,243.10 316.30,248.35 321.91,248.63 317.53,252.15 319.00,257.57 314.30,254.50 309.60,257.57 311.07,252.15 306.69,248.63 312.30,248.35" fill="#000"/>
<polygon points="547.7,215.5 542.2,230.1 553.5,230.1" fill="#000"/>
<polygon points="547.6,311.0 542.1,326.1 553.4,326.1" fill="#000"/>
<g font-weight="bold" font-size="15" fill="#111"><g transform="translate(44.00,493.4)"><text id="tick10" text-anchor="middle">10</text><rect x="-7.98" y="-2.53" width="3.03" height="3.43" fill="#fff"/><rect x="-2.68" y="-2.53" width="2.94" height="3.43" fill="#fff"/></g><g transform="translate(169.80,493.4)"><text id="tick20" text-anchor="middle">20</text></g><g transform="translate(295.60,493.4)"><text id="tick30" text-anchor="middle">30</text></g><g transform="translate(421.40,493.4)"><text id="tick40" text-anchor="middle">40</text></g><g transform="translate(547.20,493.4)"><text id="tick50" text-anchor="middle">50</text></g><g transform="translate(673.00,493.4)"><text id="tick60" text-anchor="middle">60</text></g></g>
<g><g transform="translate(263.20,21.30)"><text id="t1_d" font-size="22.00" font-weight="normal" font-family='"Liberation Serif", serif' fill="#111">&#948;</text></g><g transform="translate(275.30,21.20) scale(1.050,1)"><text id="t1_m" font-size="16.50" font-weight="bold" font-family='"Liberation Sans", sans-serif' fill="#111">-MgCl</text></g><g transform="translate(323.60,23.40) scale(1.150,1)"><text id="t1_s" font-size="11.20" font-weight="bold" font-family='"Liberation Sans", sans-serif' fill="#111">2</text></g><g transform="translate(331.30,21.20) scale(1.180,1)"><text id="t1_p" font-size="16.50" font-weight="bold" font-family='"Liberation Sans", sans-serif' fill="#111">(104)</text><rect x="5.89" y="-2.68" width="3.35" height="3.58" fill="#fff"/><rect x="11.70" y="-2.68" width="3.23" height="3.58" fill="#fff"/></g><g transform="translate(497.90,21.80)"><text id="t2_d" font-size="22.00" font-weight="normal" font-family='"Liberation Serif", serif' fill="#111">&#948;</text></g><g transform="translate(510.00,21.70) scale(1.050,1)"><text id="t2_m" font-size="16.50" font-weight="bold" font-family='"Liberation Sans", sans-serif' fill="#111">-MgCl</text></g><g transform="translate(558.90,23.90) scale(1.150,1)"><text id="t2_s" font-size="11.20" font-weight="bold" font-family='"Liberation Sans", sans-serif' fill="#111">2</text></g><g transform="translate(567.30,21.70) scale(1.170,1)"><text id="t2_p" font-size="16.50" font-weight="bold" font-family='"Liberation Sans", sans-serif' fill="#111">(110)</text><rect x="5.89" y="-2.68" width="3.35" height="3.58" fill="#fff"/><rect x="11.70" y="-2.68" width="3.23" height="3.58" fill="#fff"/><rect x="14.14" y="-2.68" width="3.35" height="3.58" fill="#fff"/><rect x="19.95" y="-2.68" width="3.23" height="3.58" fill="#fff"/></g><g transform="translate(109.20,278.50) scale(1.070,1)"><text id="p003" font-size="14.60" font-weight="bold" font-family='"Liberation Sans", sans-serif' fill="#111">(003)</text></g><g transform="translate(277.10,372.30) scale(1.070,1)"><text id="p006" font-size="14.60" font-weight="bold" font-family='"Liberation Sans", sans-serif' fill="#111">(006)</text></g><g transform="translate(338.20,382.00) scale(1.070,1)"><text id="p104" font-size="14.60" font-weight="bold" font-family='"Liberation Sans", sans-serif' fill="#111">(104)</text><rect x="5.21" y="-2.49" width="2.95" height="3.39" fill="#fff"/><rect x="10.37" y="-2.49" width="2.86" height="3.39" fill="#fff"/></g><g transform="translate(531.00,424.30) scale(1.070,1)"><text id="p110" font-size="14.60" font-weight="bold" font-family='"Liberation Sans", sans-serif' fill="#111">(110)</text><rect x="5.21" y="-2.49" width="2.95" height="3.39" fill="#fff"/><rect x="10.37" y="-2.49" width="2.86" height="3.39" fill="#fff"/><rect x="12.52" y="-2.49" width="2.95" height="3.39" fill="#fff"/><rect x="17.67" y="-2.49" width="2.86" height="3.39" fill="#fff"/></g><g transform="translate(604.00,436.00) scale(0.950,1)"><text id="a_a" font-size="16.00" font-weight="bold" font-family='"Liberation Serif", serif' fill="#111">&#945;</text></g><g transform="translate(614.00,435.80) scale(0.990,1)"><text id="a_m" font-size="15.80" font-weight="bold" font-family='"Liberation Sans", sans-serif' fill="#111">-MgCl</text></g><g transform="translate(658.80,441.80)"><text id="a_s" font-size="9.00" font-weight="bold" font-family='"Liberation Sans", sans-serif' fill="#111">2</text></g><g transform="translate(625.80,247.30) scale(1.036,1)"><text id="ti10" font-size="16.00" font-weight="bold" font-family='"Liberation Sans", sans-serif' fill="#1414d2">Ti-10</text><rect x="19.63" y="-2.63" width="3.24" height="3.53" fill="#fff"/><rect x="25.27" y="-2.63" width="3.13" height="3.53" fill="#fff"/></g><g transform="translate(632.70,337.80) scale(1.030,1)"><text id="ti5" font-size="16.00" font-weight="bold" font-family='"Liberation Sans", sans-serif' fill="#1eb41e">Ti-5</text></g><g transform="translate(310.00,514.70)"><text id="x_2" font-size="17.50" font-weight="bold" font-family='"Liberation Sans", sans-serif' fill="#111">2</text></g><g transform="translate(320.60,514.70) scale(0.900,1)"><text id="x_t" font-size="18.00" font-weight="bold" font-family='"Liberation Serif", serif' fill="#111">&#952;</text></g><g transform="translate(335.00,514.70) scale(1.100,1)"><text id="x_d" font-size="18.00" font-weight="bold" font-family='"Liberation Sans", sans-serif' fill="#111">(degree)</text></g><g transform="translate(22.00,326.00) rotate(-90) scale(1.076,1)"><text id="ylab" font-size="17.50" font-weight="bold" font-family='"Liberation Sans", sans-serif' fill="#111">intensity (a.u.)</text></g></g>
</g>
</svg>
</body></html>
